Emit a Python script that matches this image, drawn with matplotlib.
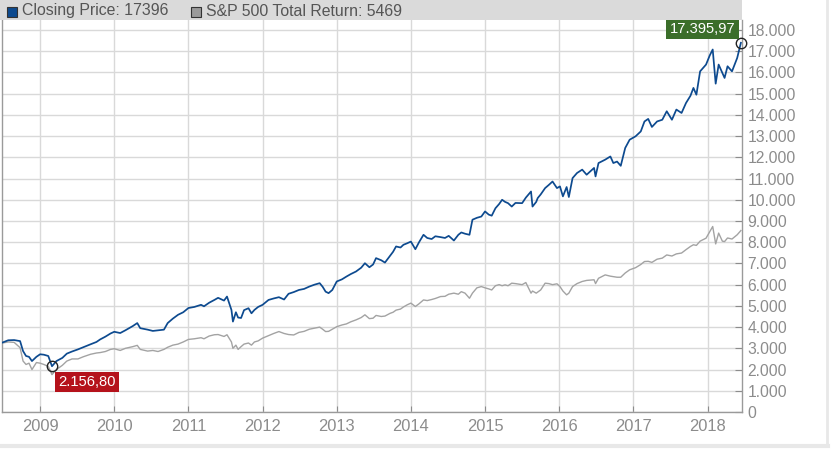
import matplotlib
matplotlib.use("Agg")
import matplotlib.pyplot as plt
from matplotlib.patches import Rectangle
from matplotlib.ticker import FuncFormatter, MultipleLocator

plt.rcParams['font.family'] = ['Liberation Sans', 'DejaVu Sans']

# ---- data (decimal years) ----
years = [2008.49, 2008.57, 2008.65, 2008.73, 2008.77, 2008.81, 2008.85, 2008.89, 2008.95,
         2009.00, 2009.05, 2009.11, 2009.16, 2009.22, 2009.30, 2009.36, 2009.43, 2009.51,
         2009.58, 2009.68, 2009.76, 2009.81, 2009.88, 2009.95,
         2010.00, 2010.08, 2010.15, 2010.25, 2010.31, 2010.35, 2010.45, 2010.52, 2010.59,
         2010.67, 2010.72, 2010.79, 2010.86, 2010.93,
         2011.00, 2011.08, 2011.17, 2011.21, 2011.28, 2011.35, 2011.40, 2011.48, 2011.52,
         2011.58, 2011.60, 2011.64, 2011.67, 2011.71, 2011.75, 2011.81, 2011.85, 2011.89, 2011.94,
         2012.00, 2012.08, 2012.15, 2012.22, 2012.29, 2012.35, 2012.42, 2012.49, 2012.56,
         2012.63, 2012.70, 2012.77, 2012.81, 2012.85, 2012.89, 2012.94,
         2013.00, 2013.07, 2013.13, 2013.19, 2013.26, 2013.33, 2013.38, 2013.44, 2013.49,
         2013.53, 2013.60, 2013.65, 2013.72, 2013.76, 2013.80, 2013.86, 2013.90, 2013.95,
         2014.00, 2014.06, 2014.11, 2014.17, 2014.22, 2014.28, 2014.33, 2014.40, 2014.46,
         2014.51, 2014.58, 2014.64, 2014.68, 2014.73, 2014.79, 2014.83, 2014.89, 2014.95,
         2015.00, 2015.05, 2015.09, 2015.14, 2015.19, 2015.23, 2015.27, 2015.31, 2015.36,
         2015.41, 2015.50, 2015.55, 2015.62, 2015.64, 2015.69, 2015.71, 2015.75, 2015.81,
         2015.86, 2015.91, 2015.97,
         2016.01, 2016.05, 2016.10, 2016.13, 2016.18, 2016.24, 2016.31, 2016.37, 2016.47,
         2016.49, 2016.53, 2016.62, 2016.69, 2016.73, 2016.78, 2016.83, 2016.89, 2016.95,
         2017.03, 2017.10, 2017.15, 2017.20, 2017.25, 2017.32, 2017.39, 2017.45, 2017.52,
         2017.58, 2017.65, 2017.71, 2017.77, 2017.81, 2017.85, 2017.90,
         2017.98, 2018.03, 2018.07, 2018.11, 2018.15, 2018.20, 2018.23, 2018.27, 2018.33,
         2018.40, 2018.45]

closing_price = [3270, 3380, 3390, 3340, 2870, 2640, 2600, 2400, 2600,
                 2720, 2700, 2640, 2156.80, 2400, 2550, 2750, 2850, 2950,
                 3050, 3190, 3300, 3420, 3550, 3700,
                 3780, 3720, 3850, 4050, 4190, 3950, 3880, 3820, 3850,
                 3880, 4190, 4400, 4580, 4700,
                 4900, 4950, 5050, 4980, 5150, 5280, 5380, 5250, 5440,
                 4810, 4260, 4700, 4450, 4430, 4800, 4890, 4650, 4810, 4950,
                 5050, 5280, 5350, 5410, 5300, 5570, 5650, 5750, 5800,
                 5910, 6000, 6070, 5900, 5670, 5600, 5750,
                 6150, 6250, 6380, 6500, 6620, 6800, 7010, 6820, 6950,
                 7250, 7150, 7040, 7360, 7550, 7800, 7750, 7880, 7950,
                 8030, 7670, 8000, 8350, 8200, 8150, 8280, 8240, 8200,
                 8300, 8080, 8350, 8460, 8400, 8350, 9060, 9150, 9210,
                 9450, 9300, 9250, 9600, 9800, 10000, 9900, 9840, 9680,
                 9850, 9840, 10100, 10390, 9680, 9900, 10080, 10250, 10550,
                 10700, 10860, 10550,
                 10630, 10160, 10600, 10130, 11020, 11260, 11420, 11180, 11500,
                 11100, 11730, 11890, 12040, 11730, 11800, 11600, 12440, 12830,
                 12990, 13220, 13690, 13810, 13430, 13690, 13770, 14170, 13770,
                 14250, 14090, 14560, 14900, 15270, 14950, 16050,
                 16370, 16800, 17080, 15470, 16370, 15980, 15740, 16290, 16050,
                 16680, 17395.97]

sp500_total_return = [3250, 3300, 3280, 3030, 2400, 2240, 2300, 2000, 2330,
                      2300, 2240, 2150, 1760, 2000, 2200, 2400, 2500, 2500,
                      2600, 2720, 2780, 2800, 2850, 2950,
                      2980, 2900, 3000, 3080, 3140, 2950, 2870, 2900, 2850,
                      2950, 3050, 3150, 3200, 3300,
                      3420, 3450, 3500, 3450, 3580, 3640, 3650, 3560, 3640,
                      3300, 3000, 3150, 2950, 3080, 3200, 3250, 3150, 3300, 3350,
                      3480, 3600, 3700, 3790, 3700, 3650, 3630, 3750, 3800,
                      3900, 3950, 4000, 3900, 3790, 3800, 3900,
                      4020, 4100, 4150, 4250, 4340, 4450, 4580, 4400, 4420,
                      4550, 4500, 4520, 4650, 4700, 4800, 4850, 4950, 5050,
                      5130, 4970, 5100, 5280, 5250, 5300, 5350, 5440, 5450,
                      5550, 5600, 5550, 5670, 5600, 5360, 5600, 5850, 5910,
                      5850, 5800, 5750, 5950, 6000, 5950, 5990, 5950, 6070,
                      6050, 6000, 6100, 5600, 5700, 5600, 5650, 5750, 6070,
                      6050, 6000, 6040,
                      5910, 5700, 5520, 5600, 5910, 6050, 6150, 6200, 6230,
                      6050, 6300, 6460, 6400, 6380, 6350, 6350, 6550, 6700,
                      6800, 6950, 7090, 7100, 7050, 7200, 7250, 7400, 7350,
                      7450, 7490, 7650, 7800, 7880, 7850, 8050,
                      8190, 8500, 8740, 7920, 8430, 8050, 8030, 8200, 8150,
                      8350, 8550]

legend_labels = ["Closing Price: 17396", "S&P 500 Total Return: 5469"]
year_ticks = list(range(2009, 2019))

# ---- figure ----
W, H = 831, 449
fig = plt.figure(figsize=(W / 100, H / 100), dpi=100)
ax = fig.add_axes([2 / W, (H - 412) / H, 740 / W, 392 / H])

blue = '#0d4a8f'
grey = '#a3a3a3'
ax.plot(years, sp500_total_return, color=grey, lw=1.0, zorder=3)
ax.plot(years, closing_price, color=blue, lw=1.25, zorder=4)

ax.set_xlim(2008.486, 2018.465)
ax.set_ylim(0, 18470)

ax.yaxis.set_major_locator(MultipleLocator(1000))
ax.yaxis.set_major_formatter(FuncFormatter(lambda v, p: f"{int(round(v)):,}".replace(",", ".")))
ax.yaxis.tick_right()
ax.set_xticks(year_ticks)
ax.set_xticklabels([str(y) for y in year_ticks])

ax.grid(True, color='#d9d9d9', lw=1.0, zorder=0)
ax.tick_params(axis='y', which='both', direction='in', length=5, color='#8c8c8c',
               labelsize=11.3, labelcolor='#8c8c8c', pad=4, right=True, left=False)
ax.tick_params(axis='x', direction='in', length=4, color='#8c8c8c',
               labelsize=11.9, labelcolor='#8c8c8c', pad=5)
for side in ['left', 'bottom', 'right']:
    ax.spines[side].set_color('#9a9a9a')
    ax.spines[side].set_linewidth(1.0)
ax.spines['top'].set_visible(False)

# markers & value labels
i_min = closing_price.index(min(closing_price))
x_min, v_min = years[i_min], closing_price[i_min]
x_last, v_last = years[-1], closing_price[-1]
fmt = lambda v: f"{v:,.2f}".replace(",", "X").replace(".", ",").replace("X", ".")

ax.plot([x_min], [v_min], marker='o', ms=7.5, mfc='none', mec='#222222', mew=1.0, zorder=6)
ax.plot([x_last], [v_last], marker='o', ms=7.5, mfc='none', mec='#222222', mew=1.0,
        zorder=6, clip_on=False)

ax.annotate(fmt(v_min), xy=(x_min, v_min), xytext=(4.5, -6.5), textcoords='offset points',
            ha='left', va='top', color='white', fontsize=10.6, zorder=7,
            bbox=dict(boxstyle='square,pad=0.22', fc='#b5121b', ec='none'))
ax.annotate(fmt(v_last), xy=(x_last, 18000), xytext=(-4, 1), textcoords='offset points',
            ha='right', va='center', color='white', fontsize=10.6, zorder=7,
            bbox=dict(boxstyle='square,pad=0.22', fc='#3b6e2a', ec='none'))

# legend band at the top
fig.patches.append(Rectangle((0, (H - 20) / H), 742 / W, 20 / H, transform=fig.transFigure,
                             fc='#dadada', ec='none', zorder=0))
fig.patches.append(Rectangle((6.5 / W, (H - 17) / H), 10 / W, 10 / H, transform=fig.transFigure,
                             fc=blue, ec='#333333', lw=0.8))
fig.text(22 / W, (H - 11) / H, legend_labels[0], fontsize=11.4, color='#555555',
         va='center', ha='left')
fig.patches.append(Rectangle((190.5 / W, (H - 17) / H), 10 / W, 10 / H, transform=fig.transFigure,
                             fc='#9a9a9a', ec='#333333', lw=0.8))
fig.text(206 / W, (H - 11) / H, legend_labels[1], fontsize=11.4, color='#555555',
         va='center', ha='left')

# light frame at right and bottom
fig.add_artist(plt.Line2D([826.5 / W, 826.5 / W], [4 / H, 1], transform=fig.transFigure,
                          color='#e8e8e8', lw=2))
fig.add_artist(plt.Line2D([0, 828 / W], [3 / H, 3 / H], transform=fig.transFigure,
                          color='#e8e8e8', lw=3))

fig.savefig('out.png', dpi=100)
